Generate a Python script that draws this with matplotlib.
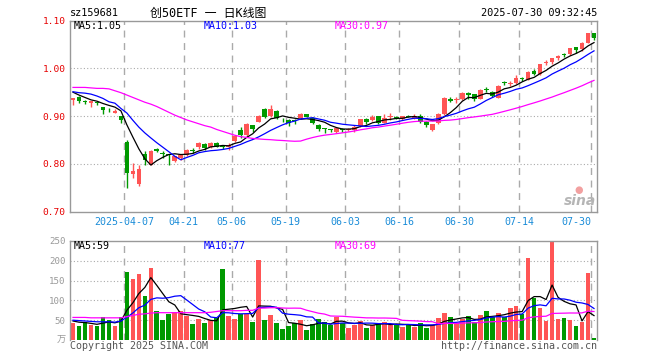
import numpy as np
import pandas as pd
import matplotlib
matplotlib.use("Agg")
import matplotlib.pyplot as plt

# trading days on screen: 2025-03-24 .. 2025-07-30 without exchange holidays
holidays = ["2025-04-04", "2025-05-01", "2025-05-02", "2025-05-05", "2025-06-02"]
dates = pd.bdate_range("2025-03-24", "2025-07-30")
dates = dates[~dates.isin(pd.to_datetime(holidays))]

tick_dates = ["2025-04-07", "2025-04-21", "2025-05-06", "2025-05-19", "2025-06-03",
              "2025-06-16", "2025-06-30", "2025-07-14", "2025-07-30"]

opens = [0.933, 0.939, 0.930, 0.928, 0.928, 0.918, 0.913, 0.907, 0.900, 0.846,
         0.779, 0.757, 0.821, 0.798, 0.832, 0.821, 0.820, 0.806, 0.812, 0.818,
         0.829, 0.835, 0.841, 0.835, 0.843, 0.837, 0.836, 0.847, 0.871, 0.860,
         0.881, 0.888, 0.915, 0.900, 0.911, 0.894, 0.892, 0.891, 0.895, 0.904,
         0.895, 0.881, 0.874, 0.872, 0.867, 0.872, 0.870, 0.871, 0.879, 0.894,
         0.892, 0.900, 0.886, 0.898, 0.898, 0.893, 0.901, 0.895, 0.900, 0.888,
         0.871, 0.885, 0.904, 0.936, 0.933, 0.935, 0.949, 0.946, 0.936, 0.956,
         0.951, 0.938, 0.970, 0.968, 0.969, 0.978, 0.976, 0.995, 0.988, 1.011,
         1.014, 1.021, 1.029, 1.029, 1.044, 1.041, 1.052, 1.073]
highs = [0.938, 0.942, 0.933, 0.932, 0.930, 0.919, 0.916, 0.915, 0.901, 0.851,
         0.801, 0.797, 0.827, 0.829, 0.834, 0.826, 0.821, 0.817, 0.820, 0.831,
         0.834, 0.846, 0.844, 0.846, 0.845, 0.840, 0.843, 0.859, 0.878, 0.886,
         0.882, 0.902, 0.916, 0.923, 0.912, 0.897, 0.893, 0.894, 0.907, 0.905,
         0.898, 0.883, 0.876, 0.874, 0.878, 0.875, 0.876, 0.881, 0.894, 0.897,
         0.902, 0.901, 0.904, 0.906, 0.901, 0.901, 0.903, 0.904, 0.904, 0.889,
         0.884, 0.906, 0.939, 0.941, 0.939, 0.951, 0.950, 0.947, 0.956, 0.961,
         0.952, 0.965, 0.974, 0.974, 0.985, 0.981, 0.995, 0.999, 1.009, 1.017,
         1.022, 1.028, 1.033, 1.043, 1.045, 1.054, 1.073, 1.074]
lows = [0.923, 0.928, 0.925, 0.920, 0.923, 0.904, 0.908, 0.907, 0.886, 0.749,
        0.770, 0.754, 0.798, 0.797, 0.824, 0.812, 0.798, 0.804, 0.809, 0.816,
        0.823, 0.832, 0.830, 0.833, 0.835, 0.832, 0.830, 0.846, 0.855, 0.857,
        0.866, 0.887, 0.897, 0.899, 0.894, 0.888, 0.880, 0.884, 0.894, 0.898,
        0.883, 0.869, 0.865, 0.866, 0.865, 0.867, 0.868, 0.867, 0.878, 0.884,
        0.890, 0.883, 0.885, 0.891, 0.893, 0.892, 0.898, 0.894, 0.885, 0.878,
        0.869, 0.884, 0.903, 0.929, 0.928, 0.934, 0.935, 0.932, 0.935, 0.951,
        0.940, 0.937, 0.965, 0.964, 0.967, 0.973, 0.975, 0.986, 0.987, 1.007,
        1.008, 1.017, 1.024, 1.028, 1.031, 1.036, 1.052, 1.060]
closes = [0.937, 0.932, 0.929, 0.931, 0.927, 0.913, 0.912, 0.911, 0.892, 0.780,
          0.785, 0.789, 0.808, 0.826, 0.826, 0.820, 0.818, 0.816, 0.818, 0.829,
          0.828, 0.844, 0.833, 0.844, 0.836, 0.836, 0.840, 0.858, 0.860, 0.883,
          0.874, 0.901, 0.899, 0.914, 0.895, 0.893, 0.886, 0.890, 0.904, 0.899,
          0.886, 0.874, 0.873, 0.871, 0.876, 0.871, 0.873, 0.878, 0.893, 0.887,
          0.899, 0.886, 0.895, 0.899, 0.897, 0.900, 0.899, 0.901, 0.888, 0.881,
          0.883, 0.904, 0.937, 0.931, 0.934, 0.949, 0.944, 0.935, 0.955, 0.955,
          0.942, 0.964, 0.969, 0.969, 0.979, 0.977, 0.992, 0.988, 1.009, 1.012,
          1.021, 1.026, 1.028, 1.042, 1.038, 1.053, 1.073, 1.063]
# volume in 万
volumes = [44, 35, 46, 38, 35, 59, 50, 35, 59, 172,
           154, 167, 112, 183, 73, 50, 65, 71, 73, 61,
           40, 53, 44, 50, 55, 179, 61, 53, 65, 65,
           46, 202, 50, 63, 44, 28, 35, 42, 50, 25,
           40, 53, 46, 38, 59, 42, 31, 38, 49, 31,
           38, 42, 46, 38, 38, 34, 39, 34, 42, 31,
           38, 55, 69, 59, 44, 52, 60, 45, 62, 72,
           59, 69, 57, 82, 86, 65, 208, 107, 82, 49,
           248, 53, 56, 51, 35, 46, 170, 6]

# MA values at the left edge, where the history is off screen
ma5_head = [0.950, 0.944, 0.939, 0.934]
ma10_head = [0.951, 0.949, 0.948, 0.946, 0.942, 0.937, 0.930, 0.927, 0.916]
ma30_head = [0.960, 0.960, 0.960, 0.959, 0.958, 0.958, 0.957, 0.953, 0.949, 0.944,
             0.939, 0.934, 0.929, 0.925, 0.920, 0.914, 0.908, 0.902, 0.897, 0.892,
             0.888, 0.884, 0.880, 0.877, 0.872, 0.868, 0.864, 0.860, 0.857]
vma5_head = [48, 45, 44, 42]
vma10_head = [50, 49, 48, 47, 46, 46, 46, 45, 48]
vma30_head = [57, 57, 57, 56, 56, 56, 56, 56, 56, 59,
              62, 65, 66, 68, 69, 69, 69, 69, 69, 69,
              69, 69, 69, 70, 72, 74, 74, 74, 74]

RED = "#ff5555"
GREEN = "#009900"
GRID = "#aaaaaa"
W, H = 660, 360

plt.rcParams["font.family"] = ["DejaVu Sans Mono", "Noto Sans CJK SC"]


def moving_avg(values, n, head):
    s = pd.Series(values, dtype=float).rolling(n).mean().to_numpy()
    s[:len(head)] = head
    return s


def frac(x0, y0, x1, y1):
    # pixel box -> figure fraction rect
    return [x0 / W, 1 - y1 / H, (x1 - x0) / W, (y1 - y0) / H]


def ftext(x, y, s, **kw):
    fig.text(x / W, 1 - y / H, s, va="center", **kw)


x = np.arange(len(closes))
o, h, l, c = map(np.array, (opens, highs, lows, closes))
colors = np.where(c >= o, RED, GREEN)
grid_pos = np.array([dates.get_loc(pd.Timestamp(d)) for d in tick_dates]) - 0.5
tick_labels = [tick_dates[0]] + [d[5:] for d in tick_dates[1:]]

fig = plt.figure(figsize=(6.6, 3.6), dpi=100)
ax = fig.add_axes(frac(70, 20.5, 597, 211.7))
axv = fig.add_axes(frac(70, 241, 597, 340))

# price panel
for gx in grid_pos:
    ax.axvline(gx, color=GRID, lw=1, dashes=(5, 4), zorder=0)
    axv.axvline(gx, color=GRID, lw=1, dashes=(5, 4), zorder=0)
for gy in [0.80, 0.90, 1.00]:
    ax.axhline(gy, color=GRID, lw=0.8, dashes=(1, 2), zorder=0)

ax.vlines(x, l, h, colors=colors, lw=1, zorder=2)
ax.bar(x, np.maximum(np.abs(c - o), 0.0018), bottom=np.minimum(o, c),
       width=0.78, color=colors, lw=0, zorder=2)
ax.plot(x, moving_avg(closes, 5, ma5_head), color="black", lw=0.9, zorder=3)
ax.plot(x, moving_avg(closes, 10, ma10_head), color="#0000ff", lw=0.9, zorder=3)
ax.plot(x, moving_avg(closes, 30, ma30_head), color="#ff00ff", lw=0.9, zorder=3)

ax.set_xlim(-0.5, len(closes) - 0.5)
ax.set_ylim(0.70, 1.10)
ax.set_yticks([0.70, 0.80, 0.90, 1.00, 1.10], ["0.70", "0.80", "0.90", "1.00", "1.10"])
ax.set_xticks(grid_pos, tick_labels)
ax.get_xticklabels()[-1].set_ha("right")
ax.tick_params(axis="y", length=0, pad=3, labelsize=6.8, labelcolor="#e60000")
ax.tick_params(axis="x", length=0, pad=3.5, labelsize=7.2, labelcolor="#1a8cd8")

# volume panel
for gy in [50, 100, 150, 200]:
    axv.axhline(gy, color=GRID, lw=0.8, dashes=(1, 2), zorder=0)
axv.bar(x, volumes, width=0.78, color=colors, lw=0, zorder=2)
axv.plot(x, moving_avg(volumes, 5, vma5_head), color="black", lw=0.9, zorder=3)
axv.plot(x, moving_avg(volumes, 10, vma10_head), color="#0000ff", lw=0.9, zorder=3)
axv.plot(x, moving_avg(volumes, 30, vma30_head), color="#ff00ff", lw=0.9, zorder=3)
axv.set_xlim(-0.5, len(closes) - 0.5)
axv.set_ylim(0, 250)
axv.set_xticks([])
axv.set_yticks([50, 100, 150, 200, 250])
axv.tick_params(axis="y", length=0, pad=3, labelsize=6.6, labelcolor="#999999")
axv.spines["bottom"].set_visible(False)

for a in (ax, axv):
    for sp in a.spines.values():
        sp.set_color("#999999")
        sp.set_linewidth(1)

# header and legends
ftext(70, 13, "sz159681", fontsize=7.4, color="black")
ftext(150, 13, "创50ETF 一 日K线图", fontsize=8.6, color="black")
ftext(597, 13, "2025-07-30 09:32:45", fontsize=7.4, color="black", ha="right")
ftext(74, 26, "MA5:1.05", fontsize=7.2, color="black")
ftext(204, 26, "MA10:1.03", fontsize=7.2, color="#0000ff")
ftext(335, 26, "MA30:0.97", fontsize=7.2, color="#ff00ff")
ftext(74, 246, "MA5:59", fontsize=7.2, color="black")
ftext(204, 246, "MA10:77", fontsize=7.2, color="#0000ff")
ftext(335, 246, "MA30:69", fontsize=7.2, color="#ff00ff")
ftext(66, 339, "万", fontsize=6.6, color="#999999", ha="right")
ftext(70, 346, "Copyright 2025 SINA.COM", fontsize=7.2, color="#555555")
ftext(597, 346, "http://finance.sina.com.cn", fontsize=7.2, color="#555555", ha="right")

# sina watermark
ftext(596, 201, "sina", fontsize=10, color="#b5b5b5", ha="right",
      family="DejaVu Sans", style="italic", weight="bold")
fig.text(579 / W, 1 - 190 / H, "●", fontsize=7, color="#f2a0a0", ha="center", va="center",
         family="DejaVu Sans")

fig.savefig("out.png", dpi=100)
